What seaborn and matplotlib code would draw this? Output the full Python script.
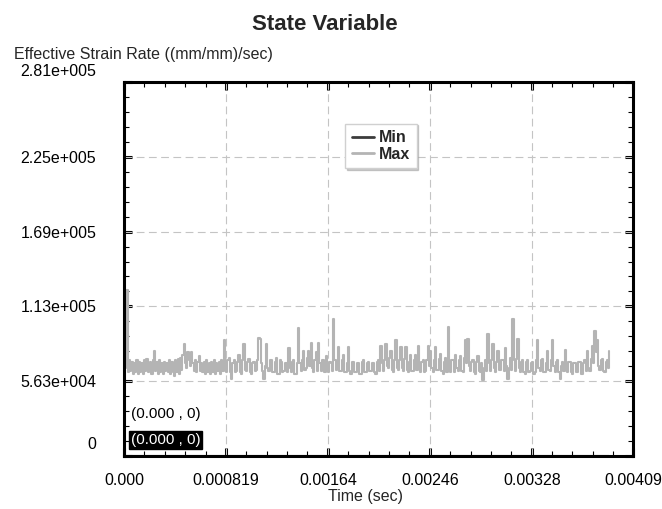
import numpy as np
import pandas as pd
import matplotlib
matplotlib.use("Agg")
import matplotlib.pyplot as plt
from matplotlib.lines import Line2D
from matplotlib.ticker import FixedLocator, AutoMinorLocator
from matplotlib.transforms import ScaledTranslation
import seaborn as sns

# Sampling interval of the solver output (s)
time_step = 1.0e-5

# Maximum effective strain rate per output step, in 1e3 (mm/mm)/sec
max_rate_k = [
    70, 66, 125, 63, 72, 64, 71, 62, 70, 63, 72, 62, 71, 63, 70, 62, 72, 64, 73, 63,
    64, 71, 62, 72, 79, 64, 71, 62, 72, 63, 70, 62, 71, 64, 70, 63, 72, 62, 71, 63,
    60, 72, 63, 73, 62, 74, 65, 76, 84, 70, 66, 78, 72, 68, 78, 70, 64, 72, 63, 71,
    75, 64, 70, 63, 71, 62, 72, 63, 70, 62, 71, 63, 72, 62, 70, 64, 71, 62, 72, 64,
    87, 66, 63, 72, 74, 63, 58, 70, 72, 63, 64, 71, 76, 63, 62, 72, 84, 65, 64, 71,
    73, 63, 62, 70, 71, 64, 65, 72, 89, 88, 70, 64, 58, 68, 84, 66, 64, 72, 72, 63,
    63, 71, 74, 62, 62, 72, 71, 63, 64, 70, 70, 63, 81, 66, 63, 71, 72, 62, 62, 70,
    96, 70, 64, 72, 79, 65, 66, 74, 79, 68, 85, 66, 63, 72, 78, 64, 85, 70, 64, 72,
    72, 63, 75, 64, 63, 71, 70, 64, 103, 72, 65, 70, 82, 64, 64, 72, 76, 63, 63, 70,
    82, 64, 62, 71, 71, 63, 63, 70, 70, 62, 62, 71, 72, 63, 63, 70, 71, 64, 64, 70,
    70, 63, 62, 71, 72, 64, 83, 70, 64, 72, 84, 68, 66, 74, 79, 65, 63, 72, 87, 66,
    65, 72, 82, 66, 64, 73, 82, 65, 63, 71, 76, 64, 64, 72, 76, 65, 83, 70, 63, 71,
    72, 63, 64, 72, 83, 68, 79, 66, 63, 72, 82, 65, 65, 73, 77, 64, 62, 71, 74, 63,
    97, 70, 63, 72, 72, 63, 76, 66, 64, 72, 75, 64, 63, 74, 87, 70, 88, 68, 64, 71,
    72, 63, 62, 71, 75, 64, 63, 70, 57, 66, 72, 64, 92, 70, 64, 72, 84, 66, 63, 71,
    79, 65, 65, 72, 72, 64, 81, 68, 58, 66, 74, 65, 103, 72, 64, 73, 88, 66, 63, 71,
    72, 63, 62, 71, 72, 63, 64, 70, 71, 62, 63, 72, 87, 66, 64, 72, 73, 63, 63, 70,
    79, 65, 64, 72, 87, 68, 63, 71, 72, 63, 58, 68, 71, 64, 80, 66, 63, 71, 71, 63,
    62, 70, 70, 63, 63, 71, 71, 62, 62, 70, 72, 64, 79, 66, 64, 73, 83, 70, 94, 78,
    87, 68, 65, 72, 73, 64, 63, 71, 72, 66, 79,
]

# Minimum effective strain rate stays at zero over the run
min_time = [0.0, 0.0039]
min_rate = [0.0, 0.0]

x_ticks = [0.0, 0.000819, 0.00164, 0.00246, 0.00328, 0.00409]
x_tick_labels = ["0.000", "0.000819", "0.00164", "0.00246", "0.00328", "0.00409"]
y_ticks = [0, 56300, 112600, 168900, 225200, 281500]
y_tick_labels = ["0", "5.63e+004", "1.13e+005", "1.69e+005", "2.25e+005", "2.81e+005"]

series_names = ["Min", "Max"]
series_colors = ["#3c3c3c", "#b4b4b4"]

max_df = pd.DataFrame({
    "time": np.arange(len(max_rate_k)) * time_step,
    "rate": np.asarray(max_rate_k, dtype=float) * 1e3,
})
min_df = pd.DataFrame({"time": min_time, "rate": min_rate})

sns.set_style("white")
plt.rcParams["font.family"] = ["Liberation Sans", "DejaVu Sans"]

fig = plt.figure(figsize=(6.62, 5.09), dpi=100)
ax = fig.add_axes([124 / 662, 1 - 456 / 509, 509 / 662, 374 / 509])

sns.lineplot(data=min_df, x="time", y="rate", ax=ax, color=series_colors[0],
             lw=1.5, estimator=None, zorder=2)
sns.lineplot(data=max_df, x="time", y="rate", ax=ax, color=series_colors[1],
             lw=1.5, estimator=None, drawstyle="steps-post", zorder=3)

ax.set_xlim(x_ticks[0], x_ticks[-1])
ax.set_ylim(y_ticks[0], y_ticks[-1])
ax.xaxis.set_major_locator(FixedLocator(x_ticks))
ax.yaxis.set_major_locator(FixedLocator(y_ticks))
ax.set_xticklabels(x_tick_labels)
ax.set_yticklabels(y_tick_labels)
ax.xaxis.set_minor_locator(AutoMinorLocator(5))
ax.yaxis.set_minor_locator(AutoMinorLocator(5))
ax.set_xlabel("")
ax.set_ylabel("")

ax.tick_params(which="both", direction="in", top=True, right=True,
               bottom=True, left=True, colors="black")
ax.tick_params(which="major", length=6, width=2.2, labelsize=11.5)
ax.tick_params(which="minor", length=3.6, width=0.8)
ax.tick_params(axis="x", which="major", pad=12)
ax.tick_params(axis="y", which="major", pad=20)

# End labels of the value axis sit a little above their ticks
yticks_major = ax.yaxis.get_major_ticks()
for tick, lift in ((yticks_major[0], 13), (yticks_major[-1], 12)):
    tick.label1.set_transform(tick.label1.get_transform()
                              + ScaledTranslation(0, lift / 100, fig.dpi_scale_trans))

for spine in ax.spines.values():
    spine.set_visible(True)
    spine.set_color("black")
    spine.set_linewidth(2.2)
    spine.set_zorder(5)

# Dashed grid at the inner major ticks
ax.grid(False)
for xv in x_ticks[1:-1]:
    ax.axvline(xv, color="#c4c4c4", lw=0.8, ls=(0, (7, 4)), zorder=1)
for yv in y_ticks[1:-1]:
    ax.axhline(yv, color="#c4c4c4", lw=0.8, ls=(0, (7, 4)), zorder=1)

handles = [Line2D([0], [0], color=c, lw=2) for c in series_colors]
leg = ax.legend(handles, series_names, loc="center",
                bbox_to_anchor=(0.505, 0.829), frameon=True, fancybox=False,
                handlelength=1.4, handletextpad=0.3, borderpad=0.4,
                labelspacing=0.1, prop={"weight": "bold", "size": 11.5},
                shadow={"ox": 1, "oy": -1, "color": "#9a9a9a"})
leg.get_frame().set_edgecolor("#d0d0d0")
leg.get_frame().set_linewidth(1.0)

# Probe readouts at the origin
ax.annotate("(0.000 , 0)", xy=(0, 0), xytext=(5, 30), textcoords="offset points",
            ha="left", va="center", fontsize=11, color="black", zorder=6)
ax.annotate("(0.000 , 0)", xy=(0, 0), xytext=(5, 11.5), textcoords="offset points",
            ha="left", va="center", fontsize=11, color="white", zorder=6,
            bbox=dict(boxstyle="square,pad=0.12", fc="black", ec="black"))

fig.text(325 / 662, 1 - 24 / 509, "State Variable", ha="center", va="center",
         fontsize=16, fontweight="bold")
fig.text(14 / 662, 1 - 54 / 509, "Effective Strain Rate ((mm/mm)/sec)",
         ha="left", va="center", fontsize=11.5)
fig.text(365 / 662, 1 - 497 / 509, "Time (sec)", ha="center", va="center",
         fontsize=11.5)

fig.savefig("out.png", dpi=100)
